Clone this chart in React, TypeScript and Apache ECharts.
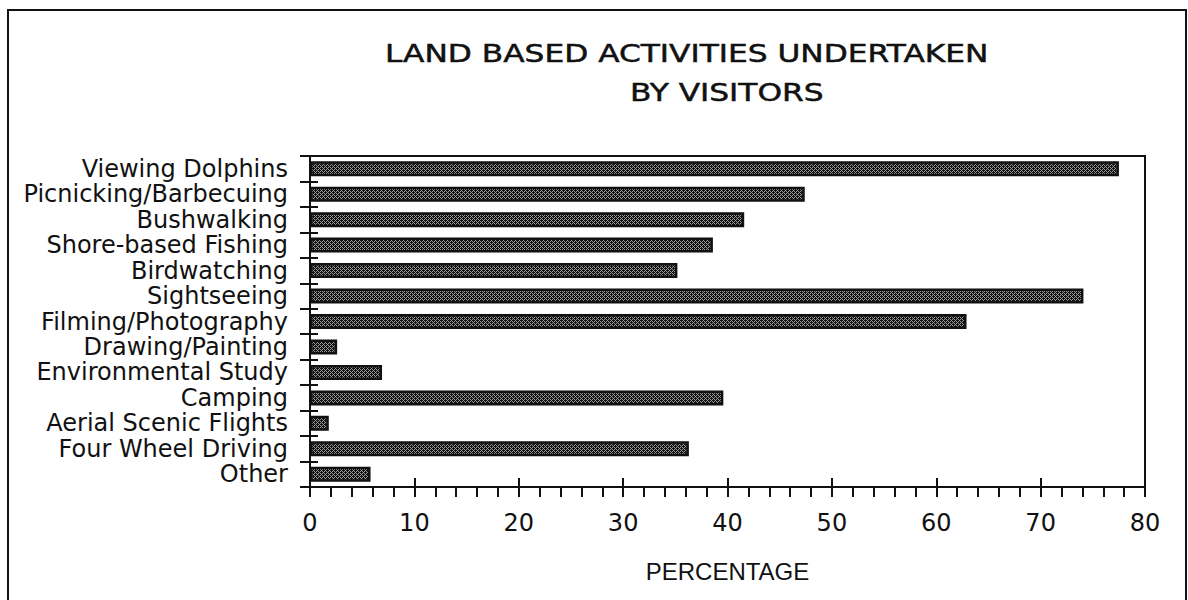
import React, { useEffect, useRef } from "react";
import * as echarts from "echarts";

const categories = [
  "Viewing Dolphins",
  "Picnicking/Barbecuing",
  "Bushwalking",
  "Shore-based Fishing",
  "Birdwatching",
  "Sightseeing",
  "Filming/Photography",
  "Drawing/Painting",
  "Environmental Study",
  "Camping",
  "Aerial Scenic Flights",
  "Four Wheel Driving",
  "Other",
];

const percentages = [77.5, 47.4, 41.6, 38.6, 35.2, 74.1, 62.9, 2.6, 6.9, 39.6, 1.8, 36.3, 5.8];

const titleLine1 = "LAND BASED ACTIVITIES UNDERTAKEN";
const titleLine2 = "BY VISITORS";
const axisName = "PERCENTAGE";

function makePattern(): HTMLCanvasElement {
  const c = document.createElement("canvas");
  c.width = 4;
  c.height = 4;
  const ctx = c.getContext("2d")!;
  ctx.fillStyle = "#9a9a9a";
  ctx.fillRect(0, 0, 4, 4);
  ctx.fillStyle = "#111111";
  for (let y = 0; y < 4; y++) {
    for (let x = 0; x < 4; x++) {
      if ((x + y) % 2 === 0) ctx.fillRect(x, y, 1, 1);
    }
  }
  ctx.fillRect(1, 0, 1, 1);
  ctx.fillRect(3, 2, 1, 1);
  return c;
}

export default function App() {
  const ref = useRef<HTMLDivElement>(null);

  useEffect(() => {
    if (!ref.current) return;
    document.body.style.margin = "0";
    const chart = echarts.init(ref.current, null, { renderer: "svg" });
    const pattern = makePattern();
    const font = "DejaVu Sans";

    chart.setOption({
      animation: false,
      backgroundColor: "#ffffff",
      grid: {
        left: 310,
        right: 43,
        top: 156,
        bottom: 113,
        show: true,
        borderColor: "#111",
        borderWidth: 2,
        backgroundColor: "transparent",
      },
      xAxis: [
        {
          type: "value",
          min: 0,
          max: 80,
          interval: 10,
          position: "bottom",
          axisLine: { show: true, lineStyle: { color: "#111", width: 2 } },
          axisTick: { show: true, inside: false, length: 10, lineStyle: { color: "#111", width: 2 } },
          minorTick: { show: true, splitNumber: 5, length: 10, lineStyle: { color: "#111", width: 2 } },
          splitLine: { show: false },
          minorSplitLine: { show: false },
          axisLabel: { color: "#111", fontFamily: font, fontSize: 24, margin: 24 },
          name: axisName,
          nameLocation: "middle",
          nameGap: 72,
          nameTextStyle: { color: "#111", fontFamily: "Liberation Sans", fontSize: 24 },
        },
        {
          type: "value",
          min: 0,
          max: 80,
          interval: 10,
          position: "bottom",
          axisLine: { show: false },
          axisTick: { show: true, inside: true, length: 9, lineStyle: { color: "#111", width: 2 } },
          axisLabel: { show: false },
          splitLine: { show: false },
        },
      ],
      yAxis: [
        {
          type: "category",
          data: categories,
          inverse: true,
          position: "left",
          axisLine: { show: true, lineStyle: { color: "#111", width: 2 } },
          axisTick: { show: true, inside: false, length: 10, interval: 0, lineStyle: { color: "#111", width: 2 } },
          axisLabel: { color: "#111", fontFamily: font, fontSize: 24, margin: 22, interval: 0 },
          splitLine: { show: false },
        },
        {
          type: "category",
          data: categories,
          inverse: true,
          position: "left",
          offset: 0,
          axisLine: { show: false },
          axisTick: { show: true, inside: true, length: 8, interval: 0, lineStyle: { color: "#111", width: 2 } },
          axisLabel: { show: false },
          splitLine: { show: false },
        },
      ],
      series: [
        {
          type: "bar",
          xAxisIndex: 0,
          yAxisIndex: 0,
          data: percentages,
          barWidth: 15,
          itemStyle: {
            color: { image: pattern, imageWidth: 4, imageHeight: 4, repeat: "repeat" } as any,
            borderColor: "#111",
            borderWidth: 2.5,
          },
        },
      ],
      graphic: [
        {
          type: "rect",
          shape: { x: 8, y: 10, width: 1178, height: 620 },
          style: { fill: "none", stroke: "#111", lineWidth: 2 },
          silent: true,
        },
        {
          type: "text",
          x: 385,
          y: 54,
          scaleX: 1.25,
          style: {
            text: titleLine1,
            fontFamily: font,
            fontSize: 25,
            fill: "#111",
            stroke: "#111",
            lineWidth: 0.5,
            align: "left",
            verticalAlign: "middle",
          },
        },
        {
          type: "text",
          x: 630,
          y: 93,
          scaleX: 1.25,
          style: {
            text: titleLine2,
            fontFamily: font,
            fontSize: 25,
            fill: "#111",
            stroke: "#111",
            lineWidth: 0.5,
            align: "left",
            verticalAlign: "middle",
          },
        },
      ],
    });

    return () => {
      chart.dispose();
    };
  }, []);

  return (
    <div
      ref={ref}
      style={{ position: "fixed", left: 0, top: 0, width: 1188, height: 600 }}
    />
  );
}
